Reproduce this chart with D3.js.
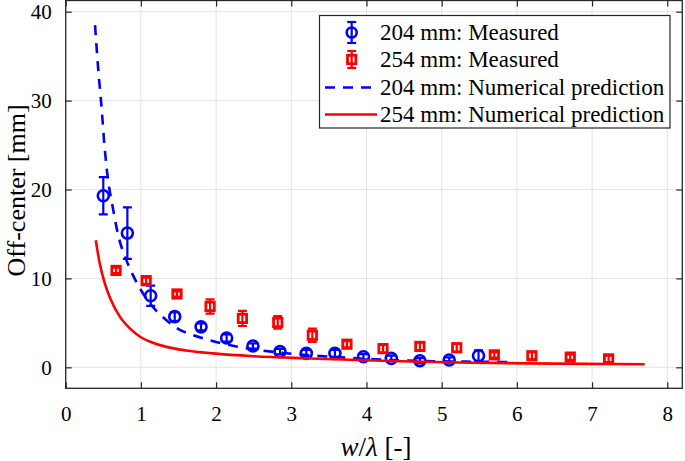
<!DOCTYPE html>
<html>
<head>
<meta charset="utf-8">
<script src="https://cdn.jsdelivr.net/npm/d3@7"></script>
<style>
html,body{margin:0;padding:0;background:#fff;}
svg{display:block;}
text{font-family:"Liberation Serif","Times New Roman",serif;fill:#000;}
</style>
</head>
<body>
<svg id="chart" width="685" height="461"></svg>
<script>
// ---- data ----
const xTicks = [0,1,2,3,4,5,6,7,8];
const yTicks = [0,10,20,30,40];

// 204 mm measured
const xBlue = [0.50,0.82,1.13,1.45,1.80,2.14,2.49,2.85,3.20,3.58,3.96,4.33,4.71,5.10,5.49];
const yBlue = [19.3,15.1,8.05,5.7,4.55,3.3,2.4,1.76,1.57,1.57,1.19,1.01,0.74,0.82,1.3];
const eBlue = [2.1,2.9,1.15,0.5,0.4,0.4,0.3,0.3,0.4,0.4,0.3,0.3,0.3,0.3,0.6];

// 254 mm measured
const xRed = [0.67,1.07,1.48,1.92,2.35,2.82,3.28,3.74,4.22,4.71,5.20,5.70,6.20,6.71,7.22];
const yRed = [10.9,9.75,8.25,6.85,5.5,5.05,3.6,2.6,2.1,2.35,2.2,1.4,1.3,1.15,0.95];
const eRed = [0.3,0.35,0.3,0.8,0.85,0.7,0.75,0.35,0.45,0.45,0.45,0.3,0.4,0.3,0.35];

// 204 mm numerical prediction
const xPredBlue = [0.39,0.43,0.48,0.51,0.55,0.63,0.70,0.80,0.87,1.00,1.20,1.34,1.50,1.70,1.85,2.00,2.40,2.80,3.20,3.65,4.00,4.50,5.00,5.40,5.95];
const yPredBlue = [38.5,33.8,28.9,25.5,22.0,17.8,14.8,12.2,10.8,8.7,6.4,5.3,4.3,3.6,3.2,2.85,2.14,1.7,1.38,1.12,0.95,0.76,0.67,0.63,0.6];

// 254 mm numerical prediction
const xPredRed = [0.40,0.45,0.52,0.60,0.72,0.85,0.99,1.15,1.34,1.60,1.96,2.50,3.25,4.31,5.38,6.50,7.70];
const yPredRed = [14.3,11.8,9.45,7.6,5.7,4.4,3.44,2.8,2.3,1.9,1.57,1.25,1.0,0.71,0.52,0.42,0.34];

const legendLabels = ["204 mm: Measured","254 mm: Measured","204 mm: Numerical prediction","254 mm: Numerical prediction"];

// ---- layout ----
const FONT = '"Liberation Serif","Times New Roman",serif';
const svg = d3.select("#chart");
const L = 65.7, R = 682.3, T = 0.5, B = 388.3;
const x = d3.scaleLinear().domain([0, 8.2]).range([L, R]);
const y = d3.scaleLinear().domain([-2.36, 41.26]).range([B, T]);
const BLUE = "#0000ff", RED = "#ff0000", AX = "#262626";

// grid
const grid = svg.append("g");
grid.selectAll(".gx").data(xTicks).enter().append("line")
  .attr("x1", d => x(d)).attr("x2", d => x(d)).attr("y1", T).attr("y2", B)
  .attr("stroke", "#e4e4e4").attr("stroke-width", 1);
grid.selectAll(".gy").data(yTicks).enter().append("line")
  .attr("x1", L).attr("x2", R).attr("y1", d => y(d)).attr("y2", d => y(d))
  .attr("stroke", "#e4e4e4").attr("stroke-width", 1);

// axes (ticks inward)
const tl = 6;
const xAxisB = d3.axisBottom(x).tickValues(xTicks).tickSize(-tl).tickPadding(tl + 12).tickFormat(d3.format("d"));
const xAxisT = d3.axisTop(x).tickValues(xTicks).tickSize(-tl).tickFormat("");
const yAxisL = d3.axisLeft(y).tickValues(yTicks).tickSize(-tl).tickPadding(tl + 8).tickFormat(d3.format("d"));
const yAxisR = d3.axisRight(y).tickValues(yTicks).tickSize(-tl).tickFormat("");

function styleAxis(g) {
  g.attr("font-family", FONT).attr("font-size", 21);
  g.select(".domain").remove();
  g.selectAll(".tick line").attr("stroke", AX).attr("stroke-width", 1.2);
  g.selectAll(".tick text").style("font-family", FONT)
    .style("font-size", "21px").attr("fill", "#000");
}
svg.append("g").attr("transform", `translate(0,${B})`).call(xAxisB).call(styleAxis);
svg.append("g").attr("transform", `translate(0,${T})`).call(xAxisT).call(styleAxis);
svg.append("g").attr("transform", `translate(${L},0)`).call(yAxisL).call(styleAxis);
svg.append("g").attr("transform", `translate(${R},0)`).call(yAxisR).call(styleAxis);

// box
svg.append("rect").attr("x", L).attr("y", T).attr("width", R - L).attr("height", B - T)
  .attr("fill", "none").attr("stroke", AX).attr("stroke-width", 1.3);

// axis labels
svg.append("text").attr("x", (L + R) / 2 + 2).attr("y", 456).attr("text-anchor", "middle")
  .style("font-size", "27px")
  .html('<tspan font-style="italic">w</tspan>/<tspan font-style="italic">λ</tspan> [-]');
svg.append("text").attr("transform", `translate(25,${(T + B) / 2 - 4}) rotate(-90)`)
  .attr("text-anchor", "middle").style("font-size", "26px").text("Off-center [mm]");

// clip
svg.append("clipPath").attr("id", "clip").append("rect")
  .attr("x", L).attr("y", T).attr("width", R - L).attr("height", B - T);
const plot = svg.append("g").attr("clip-path", "url(#clip)");

const cap = 4.5;
function errorbars(g, xs, ys, es, color) {
  const d = xs.map((v, i) => ({x: v, y: ys[i], e: es[i]}));
  const eb = g.append("g").attr("stroke", color).attr("stroke-width", 2.2).attr("fill", "none");
  eb.selectAll(".v").data(d).enter().append("line")
    .attr("x1", p => x(p.x)).attr("x2", p => x(p.x))
    .attr("y1", p => y(p.y + p.e)).attr("y2", p => y(p.y - p.e));
  eb.selectAll(".t").data(d).enter().append("line")
    .attr("x1", p => x(p.x) - cap).attr("x2", p => x(p.x) + cap)
    .attr("y1", p => y(p.y + p.e)).attr("y2", p => y(p.y + p.e));
  eb.selectAll(".b").data(d).enter().append("line")
    .attr("x1", p => x(p.x) - cap).attr("x2", p => x(p.x) + cap)
    .attr("y1", p => y(p.y - p.e)).attr("y2", p => y(p.y - p.e));
  return d;
}

// blue measured
const dB = errorbars(plot, xBlue, yBlue, eBlue, BLUE);
plot.append("g").selectAll("circle").data(dB).enter().append("circle")
  .attr("cx", p => x(p.x)).attr("cy", p => y(p.y)).attr("r", 5.5)
  .attr("fill", "none").attr("stroke", BLUE).attr("stroke-width", 2.6);

// red measured
const dR = errorbars(plot, xRed, yRed, eRed, RED);
plot.append("g").selectAll("rect").data(dR).enter().append("rect")
  .attr("x", p => x(p.x) - 4.2).attr("y", p => y(p.y) - 4.2).attr("width", 8.4).attr("height", 8.4)
  .attr("fill", "none").attr("stroke", RED).attr("stroke-width", 2.8);

// prediction lines
const line = d3.line().x(d => x(d[0])).y(d => y(d[1])).curve(d3.curveMonotoneX);
plot.append("path").datum(xPredBlue.map((v, i) => [v, yPredBlue[i]]))
  .attr("d", line).attr("fill", "none").attr("stroke", BLUE).attr("stroke-width", 2.6)
  .attr("stroke-dasharray", "10,8");
plot.append("path").datum(xPredRed.map((v, i) => [v, yPredRed[i]]))
  .attr("d", line).attr("fill", "none").attr("stroke", RED).attr("stroke-width", 2.6);

// legend
const lg = svg.append("g");
lg.append("rect").attr("x", 319.5).attr("y", 15.5).attr("width", 350.5).attr("height", 112.5)
  .attr("fill", "#fff").attr("stroke", AX).attr("stroke-width", 1.2);
const baselines = [40, 67, 95, 122];
const ix = 351.7;
lg.selectAll("text.lt").data(legendLabels).enter().append("text")
  .attr("x", 380).attr("y", (d, i) => baselines[i]).style("font-size", "23px").text(d => d);
// row1 icon
const r1 = baselines[0] - 7.5;
lg.append("line").attr("x1", ix).attr("x2", ix).attr("y1", r1 - 10.5).attr("y2", r1 + 10.5).attr("stroke", BLUE).attr("stroke-width", 2.2);
lg.append("line").attr("x1", ix - cap).attr("x2", ix + cap).attr("y1", r1 - 10.5).attr("y2", r1 - 10.5).attr("stroke", BLUE).attr("stroke-width", 2.2);
lg.append("line").attr("x1", ix - cap).attr("x2", ix + cap).attr("y1", r1 + 10.5).attr("y2", r1 + 10.5).attr("stroke", BLUE).attr("stroke-width", 2.2);
lg.append("circle").attr("cx", ix).attr("cy", r1).attr("r", 5).attr("fill", "none").attr("stroke", BLUE).attr("stroke-width", 2.6);
// row2 icon
const r2 = baselines[1] - 7.5;
lg.append("line").attr("x1", ix).attr("x2", ix).attr("y1", r2 - 8.5).attr("y2", r2 + 8.5).attr("stroke", RED).attr("stroke-width", 2.2);
lg.append("line").attr("x1", ix - cap).attr("x2", ix + cap).attr("y1", r2 - 8.5).attr("y2", r2 - 8.5).attr("stroke", RED).attr("stroke-width", 2.2);
lg.append("line").attr("x1", ix - cap).attr("x2", ix + cap).attr("y1", r2 + 8.5).attr("y2", r2 + 8.5).attr("stroke", RED).attr("stroke-width", 2.2);
lg.append("rect").attr("x", ix - 4.2).attr("y", r2 - 4.2).attr("width", 8.4).attr("height", 8.4).attr("fill", "none").attr("stroke", RED).attr("stroke-width", 2.8);
// row3, row4
const r3 = baselines[2] - 7.5, r4 = baselines[3] - 7.5;
lg.append("line").attr("x1", 325).attr("x2", 377).attr("y1", r3).attr("y2", r3).attr("stroke", BLUE).attr("stroke-width", 2.6).attr("stroke-dasharray", "10,8");
lg.append("line").attr("x1", 325).attr("x2", 377).attr("y1", r4).attr("y2", r4).attr("stroke", RED).attr("stroke-width", 2.6);
</script>
</body>
</html>
